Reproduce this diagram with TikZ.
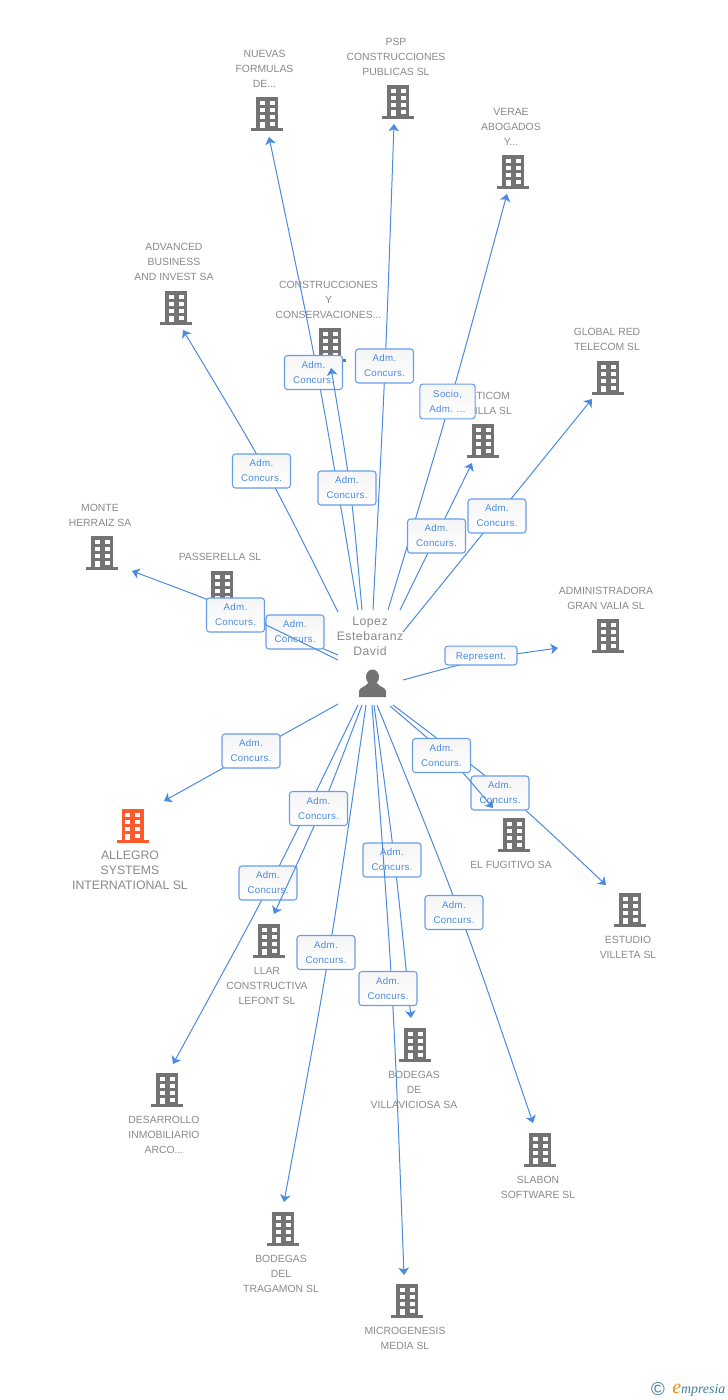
\documentclass[tikz,border=0pt]{standalone}
\usepackage{fontspec}
\setmainfont{Liberation Sans}
\newfontfamily\logofont{Liberation Serif}
\newfontfamily\boxfont[LetterSpace=3]{Liberation Sans}
\newfontfamily\hubfont[LetterSpace=4]{Liberation Sans}
\usetikzlibrary{arrows.meta}
\definecolor{linkblue}{HTML}{4A8BE0}
\definecolor{boxblue}{HTML}{669EEA}
\definecolor{textblue}{HTML}{4A8BE0}
\definecolor{labelgray}{HTML}{8A8A8A}
\definecolor{iconcol}{HTML}{737373}
\definecolor{hot}{HTML}{FF5A2B}
\definecolor{logoteal}{HTML}{3F7F9F}
\definecolor{logoorange}{HTML}{F08A1A}
\tikzset{
  conn/.style={draw=linkblue,line width=.75pt,-{Stealth[length=5.5pt,width=8pt,inset=1.5pt]}},
  edgebox/.style={draw=boxblue,line width=.8pt,rounded corners=2.2pt,top color=black!4,bottom color=white,
    minimum width=43.5pt,minimum height=25.5pt,inner sep=0pt,align=center,text=textblue,
    font=\boxfont\fontsize{7.3}{11.25}\selectfont,
    execute at begin node={\rule{0pt}{7.5pt}}},
  namelabel/.style={align=center,inner sep=0pt,text=labelgray,yshift=-.75pt,font=\fontsize{7.8}{11.4}\selectfont},
  biglabel/.style={align=center,inner sep=0pt,text=labelgray,font=\fontsize{9.2}{11.25}\selectfont},
  iconbox/.style={minimum width=24pt,minimum height=25.5pt,inner sep=0pt},
}
\newcommand{\bldg}[4]{%
  \node[iconbox] (#1) at (#2,#3+17) {};
  \begin{scope}[shift={(#2,#3)}]
    \fill[#4] (-11,0) rectangle (11,31);
    \fill[#4] (-16,31) rectangle (16,34);
    \foreach \wy in {4,11,17.8}{
      \fill[white] (-7.5,\wy) rectangle (-2.3,\wy+4.4);
      \fill[white] (2.5,\wy) rectangle (7.7,\wy+4.4);
    }
    \fill[white] (-7.5,24.5) rectangle (-2.3,31);
    \fill[white] (2.5,24.5) rectangle (7.7,29);
  \end{scope}}
\begin{document}
\begin{tikzpicture}[x=.75pt,y=-.75pt]
\useasboundingbox (0,0) rectangle (728,1400);
\fill[white] (0,0) rectangle (728,1400);

% buildings
\bldg{nNuevas}{267}{97}{iconcol}
\bldg{nPsp}{398}{85}{iconcol}
\bldg{nVerae}{513}{155}{iconcol}
\bldg{nAdv}{176}{291}{iconcol}
\bldg{nCons}{330}{328}{iconcol}
\bldg{nPast}{483}{424}{iconcol}
\bldg{nGlobal}{608}{361}{iconcol}
\bldg{nMonte}{102}{536}{iconcol}
\bldg{nPass}{222}{571}{iconcol}
\bldg{nAdmin}{608}{619}{iconcol}
\bldg{nFug}{514}{818}{iconcol}
\bldg{nEst}{630}{893}{iconcol}
\bldg{nAll}{132.5}{809}{hot}
\bldg{nLlar}{269}{924}{iconcol}
\bldg{nDes}{167}{1073}{iconcol}
\bldg{nVil}{415}{1028}{iconcol}
\bldg{nSla}{540}{1133}{iconcol}
\bldg{nTra}{283}{1212}{iconcol}
\bldg{nMic}{407}{1284}{iconcol}

% names
\node[namelabel] (tNuevas) at (264.5,68) {NUEVAS\\FORMULAS\\DE...};
\node[namelabel] (tPsp) at (396,56) {PSP\\CONSTRUCCIONES\\PUBLICAS SL};
\node[namelabel] (tVerae) at (511,126) {VERAE\\ABOGADOS\\Y...};
\node[namelabel] (tAdv) at (174,261) {ADVANCED\\BUSINESS\\AND INVEST SA};
\node[namelabel] (tCons) at (328.5,299) {CONSTRUCCIONES\\Y\\CONSERVACIONES...};
\node[namelabel] (tPast) at (483,402.5) {PASTICOM\\SEVILLA SL};
\node[namelabel] (tGlobal) at (607,338.5) {GLOBAL RED\\TELECOM SL};
\node[namelabel] (tMonte) at (100,514.5) {MONTE\\HERRAIZ SA};
\node[namelabel] (tPass) at (220,556) {PASSERELLA SL};
\node[namelabel] (tAdmin) at (606,597.5) {ADMINISTRADORA\\GRAN VALIA SL};
\node[namelabel] (tFug) at (511,864) {EL FUGITIVO SA};
\node[namelabel] (tEst) at (628,946.5) {ESTUDIO\\VILLETA SL};
\node[biglabel] (tAll) at (130,870) {ALLEGRO\\SYSTEMS\\INTERNATIONAL SL};
\node[namelabel] (tLlar) at (267,985) {LLAR\\CONSTRUCTIVA\\LEFONT SL};
\node[namelabel] (tDes) at (164,1134) {DESARROLLO\\INMOBILIARIO\\ARCO...};
\node[namelabel] (tVil) at (414,1089) {BODEGAS\\DE\\VILLAVICIOSA SA};
\node[namelabel] (tSla) at (538,1186.5) {SLABON\\SOFTWARE SL};
\node[namelabel] (tTra) at (281,1273) {BODEGAS\\DEL\\TRAGAMON SL};
\node[namelabel] (tMic) at (405,1337.5) {MICROGENESIS\\MEDIA SL};

% hub
\node[biglabel,font=\hubfont\fontsize{9.2}{11.25}\selectfont] (tHub) at (370,636) {Lopez\\Estebaranz\\David};
\node[inner sep=0pt,minimum width=20pt,minimum height=16pt] (hub) at (372.5,684) {};
\fill[iconcol] (372.5,677) ellipse (6.5 and 7.5);
\fill[iconcol] (359,697) -- (359,691) .. controls (359.5,687) and (366,687) .. (368,683)
  -- (377,683) .. controls (379,687) and (385.5,687) .. (386,691) -- (386,697) -- cycle;

% free ends
\coordinate (sNuevas) at (358,610); \coordinate (eNuevas) at (269,137);
\coordinate (sCons) at (362,610);   \coordinate (eCons) at (331,368);
\coordinate (sPsp) at (373,610);    \coordinate (ePsp) at (394,124);
\coordinate (sVerae) at (388,610);  \coordinate (eVerae) at (507,194);
\coordinate (sPast) at (400,610);   \coordinate (ePast) at (472,463);
\coordinate (sGlobal) at (403,632); \coordinate (eGlobal) at (592,399);
\coordinate (sAdv) at (338,612);    \coordinate (eAdv) at (183,330);
\coordinate (sPass) at (338,655);   \coordinate (ePass) at (238,612);
\coordinate (sMonte) at (338,660);  \coordinate (eMonte) at (132,571);
\coordinate (sAdmin) at (403,680);  \coordinate (eAdmin) at (558,648);
\coordinate (sAll) at (338,704);    \coordinate (eAll) at (164,801);
\coordinate (sEst) at (393,705);    \coordinate (eEst) at (606,885);
\coordinate (sFug) at (390,706);    \coordinate (eFug) at (493,808);
\coordinate (sSla) at (377,705);    \coordinate (eSla) at (533,1123);
\coordinate (sMic) at (372,705);    \coordinate (eMic) at (404,1275);
\coordinate (sVil) at (374,705);    \coordinate (eVil) at (411,1018);
\coordinate (sTra) at (366,705);    \coordinate (eTra) at (284,1202);
\coordinate (sLlar) at (362,705);   \coordinate (eLlar) at (274,914);
\coordinate (sDes) at (358,705);    \coordinate (eDes) at (173,1064);

% connectors and their labels, in stacking order
\draw[conn] (sPsp) .. controls (385.5,367) .. (ePsp);
\node[edgebox] (bPsp) at (384.5,366) {Adm.\\Concurs.};
\draw[conn] (sVerae) .. controls (450.8,402) .. (eVerae);
\node[edgebox,minimum width=41.5pt,minimum height=26pt] (bVerae) at (447.5,401.5) {Socio,\\Adm. ...};
\draw[conn] (sNuevas) .. controls (318.5,372) .. (eNuevas);
\node[edgebox] (bNuevas) at (313.5,372.5) {Adm.\\Concurs.};
\draw[conn] (sCons) .. controls (351.3,489) .. (eCons);
\node[edgebox] (bCons) at (347,488) {Adm.\\Concurs.};
\draw[conn] (sPast) -- (ePast);
\node[edgebox] (bPast) at (436.5,536) {Adm.\\Concurs.};
\draw[conn] (sGlobal) -- (eGlobal);
\node[edgebox] (bGlobal) at (497,516) {Adm.\\Concurs.};
\draw[conn] (sAdv) .. controls (267.8,471) .. (eAdv);
\node[edgebox] (bAdv) at (261.5,471) {Adm.\\Concurs.};
\draw[conn] (sPass) -- (ePass);
\node[edgebox] (bPass) at (295,632) {Adm.\\Concurs.};
\draw[conn] (sMonte) .. controls (235,609.5) .. (eMonte);
\node[edgebox] (bMonte) at (235.5,615) {Adm.\\Concurs.};
\draw[conn] (sAdmin) .. controls (481.2,658.7) .. (eAdmin);
\node[edgebox,minimum width=54pt,minimum height=14.2pt] (bAdmin) at (481,655.5) {Represent.};
\draw[conn] (sAll) -- (eAll);
\node[edgebox] (bAll) at (251,751) {Adm.\\Concurs.};
\draw[conn] (sEst) .. controls (504,789) .. (eEst);
\node[edgebox] (bEst) at (500,793) {Adm.\\Concurs.};
\draw[conn] (sFug) .. controls (450,757) .. (eFug);
\node[edgebox] (bFug) at (441.5,755.5) {Adm.\\Concurs.};
\draw[conn] (sSla) .. controls (461.7,914) .. (eSla);
\node[edgebox] (bSla) at (454,912.5) {Adm.\\Concurs.};
\draw[conn] (sVil) .. controls (395.2,860.8) .. (eVil);
\node[edgebox] (bVil) at (392,860) {Adm.\\Concurs.};
\draw[conn] (sTra) .. controls (330.3,952.8) .. (eTra);
\node[edgebox] (bTra) at (326,952.5) {Adm.\\Concurs.};
\draw[conn] (sDes) .. controls (271.5,883.9) .. (eDes);
\node[edgebox] (bDes) at (268,883) {Adm.\\Concurs.};
\draw[conn] (sLlar) .. controls (322,810) .. (eLlar);
\node[edgebox] (bLlar) at (318.5,808.5) {Adm.\\Concurs.};
\draw[conn] (sMic) .. controls (393.3,990) .. (eMic);
\node[edgebox] (bMic) at (388,988.5) {Adm.\\Concurs.};

% logo
\node[inner sep=0pt,text=logoteal,font=\fontsize{14}{14}\selectfont] (logoC) at (658,1389) {©};
\node[inner sep=0pt,anchor=base west,font=\logofont\itshape\fontsize{10.4}{12}\selectfont] (logoE) at (672,1393)
  {\textcolor{logoorange}{\fontsize{15}{15}\selectfont e}\textcolor{logoteal}{mpresia}};
\end{tikzpicture}
\end{document}
